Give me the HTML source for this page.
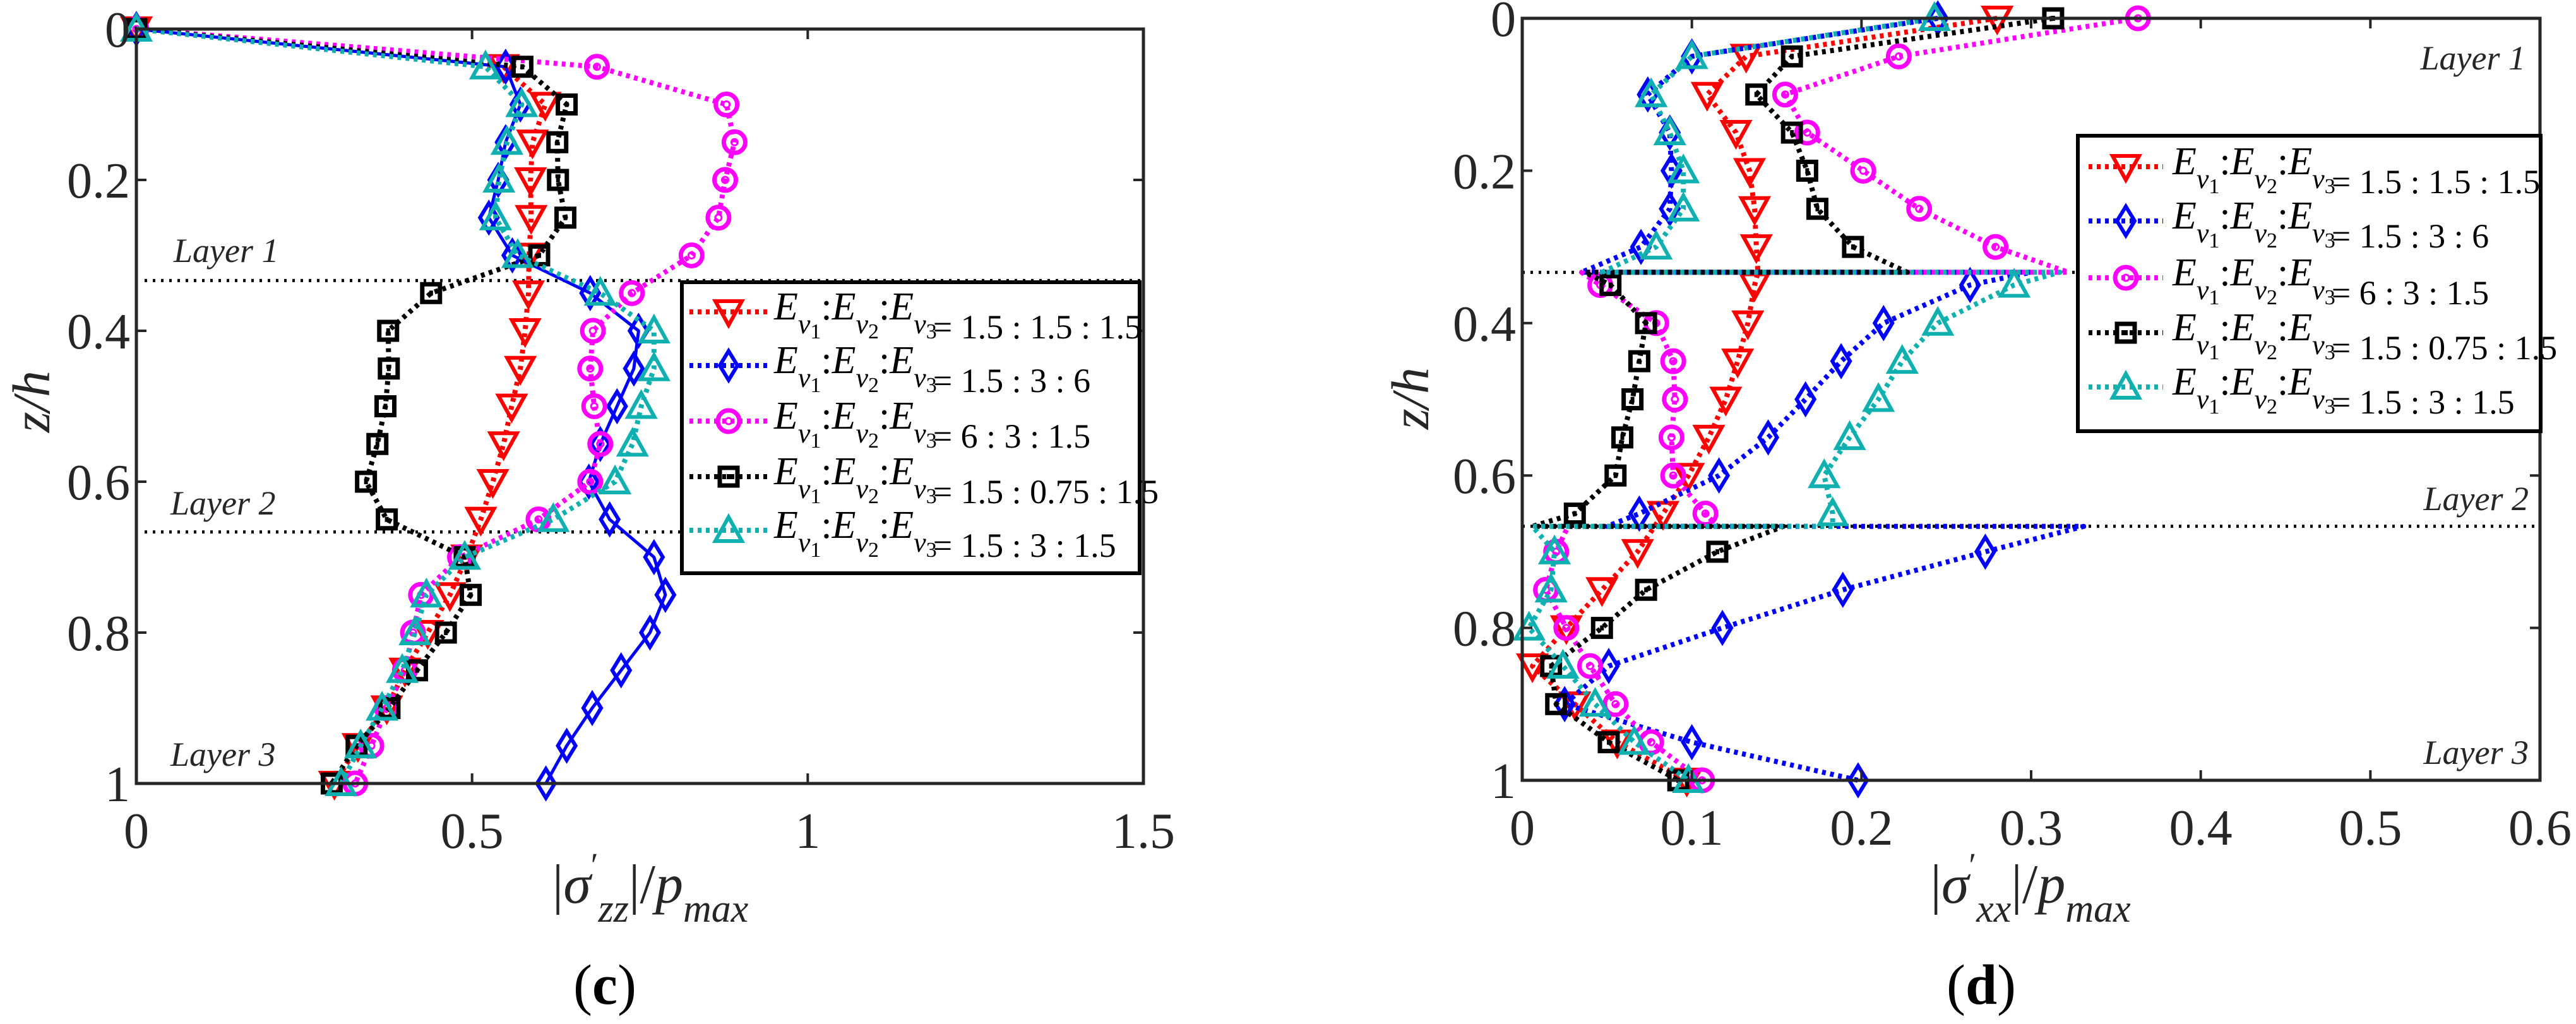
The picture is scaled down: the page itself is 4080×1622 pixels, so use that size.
<!DOCTYPE html>
<html><head><meta charset="utf-8"><style>
html,body{margin:0;padding:0;background:#fff;}
svg{display:block;}
text{font-family:"Liberation Serif","Times New Roman",Times,serif;}
</style></head><body>
<svg id="fig" width="4080" height="1622" viewBox="0 0 4080 1622" xmlns="http://www.w3.org/2000/svg">
<rect width="4080" height="1622" fill="#fff"/>
</svg>
<script>
// ---------- data: panel (c) ----------
const zC = [0,0.05,0.1,0.15,0.2,0.25,0.3,0.35,0.4,0.45,0.5,0.55,0.6,0.65,0.7,0.75,0.8,0.85,0.9,0.95,1];
const cRed     = [0,0.547,0.609,0.59,0.587,0.588,0.585,0.584,0.579,0.572,0.559,0.547,0.531,0.513,0.492,0.467,0.434,0.40,0.373,0.33,0.295];
const cBlue    = [0,0.55,0.572,0.55,0.539,0.525,0.56,0.676,0.748,0.741,0.716,0.691,0.674,0.705,0.771,0.788,0.765,0.722,0.679,0.641,0.61];
const cMagenta = [0,0.686,0.879,0.891,0.877,0.867,0.827,0.738,0.68,0.676,0.682,0.691,0.676,0.599,0.482,0.424,0.412,0.40,0.373,0.35,0.326];
const cBlack   = [0,0.575,0.641,0.627,0.628,0.639,0.6,0.439,0.375,0.376,0.371,0.359,0.342,0.373,0.489,0.498,0.461,0.418,0.377,0.328,0.291];
const cCyan    = [0,0.52,0.574,0.552,0.54,0.535,0.568,0.691,0.771,0.771,0.752,0.739,0.713,0.621,0.489,0.432,0.415,0.396,0.366,0.334,0.305];
const cXTicks = [0,0.5,1,1.5];
const cXTickLabels = ["0","0.5","1","1.5"];
// ---------- data: panel (d) ----------
const zD = [0,0.05,0.1,0.15,0.2,0.25,0.3,0.3333,0.3333,0.35,0.4,0.45,0.5,0.55,0.6,0.65,0.6667,0.6667,0.7,0.75,0.8,0.85,0.9,0.95,1];
const dMark = [1,1,1,1,1,1,1,0,0,1,1,1,1,1,1,1,0,0,1,1,1,1,1,1,1];
const dRed     = [0.28,0.132,0.109,0.126,0.134,0.137,0.138,0.139,0.139,0.137,0.133,0.127,0.12,0.11,0.098,0.083,0.078,0.078,0.068,0.047,0.026,0.006,0.031,0.056,0.097];
const dBlue    = [0.245,0.1,0.074,0.087,0.088,0.087,0.07,0.035,0.30,0.264,0.213,0.188,0.167,0.145,0.116,0.069,0.05,0.331,0.273,0.189,0.118,0.051,0.025,0.1,0.198];
const dMagenta = [0.363,0.222,0.155,0.168,0.201,0.234,0.279,0.322,0.035,0.046,0.079,0.089,0.09,0.088,0.089,0.108,0.115,0.027,0.02,0.014,0.026,0.04,0.055,0.076,0.106];
const dBlack   = [0.313,0.159,0.138,0.159,0.168,0.174,0.195,0.227,0.037,0.052,0.073,0.069,0.065,0.059,0.055,0.031,0.006,0.154,0.115,0.073,0.047,0.017,0.02,0.051,0.092];
const dCyan    = [0.243,0.1,0.076,0.087,0.095,0.095,0.079,0.047,0.317,0.29,0.245,0.224,0.21,0.193,0.178,0.183,0.183,0.006,0.019,0.017,0.004,0.024,0.043,0.066,0.098];
const dXTicks = [0,0.1,0.2,0.3,0.4,0.5,0.6];
const dXTickLabels = ["0","0.1","0.2","0.3","0.4","0.5","0.6"];
const zTicks = [0,0.2,0.4,0.6,0.8,1];
const zTickLabels = ["0","0.2","0.4","0.6","0.8","1"];
const legendRatios = ["= 1.5 : 1.5 : 1.5","= 1.5 : 3 : 6","=  6 : 3 : 1.5","= 1.5 : 0.75 : 1.5","= 1.5 : 3 : 1.5"];

const NS="http://www.w3.org/2000/svg";
const SERIF="Liberation Serif, Times New Roman, Times, serif";
const svg=document.getElementById('fig');
function mk(tag,attrs,parent){const e=document.createElementNS(NS,tag);for(const k in attrs)e.setAttribute(k,attrs[k]);if(tag==='text')e.setAttribute('font-family',SERIF);(parent||svg).appendChild(e);return e;}

const styles=[
 {color:"#ff0000",mk:"tdown"},
 {color:"#0000ff",mk:"diamond"},
 {color:"#ff00ff",mk:"circle"},
 {color:"#000000",mk:"square"},
 {color:"#10b0b0",mk:"tup"}
];
const seriesNames=["series-1.5-1.5-1.5","series-1.5-3-6","series-6-3-1.5","series-1.5-0.75-1.5","series-1.5-3-1.5"];

function marker(g,type,x,y,color){
  let e;
  const sw=6;
  if(type==="tdown") e=mk('polygon',{points:`${x-21},${y-17} ${x+21},${y-17} ${x},${y+21}`,fill:"none",stroke:color,"stroke-width":sw},g);
  else if(type==="tup") e=mk('polygon',{points:`${x-21},${y+17} ${x+21},${y+17} ${x},${y-21}`,fill:"none",stroke:color,"stroke-width":sw},g);
  else if(type==="diamond") e=mk('polygon',{points:`${x},${y-23} ${x+14},${y} ${x},${y+23} ${x-14},${y}`,fill:"none",stroke:color,"stroke-width":sw},g);
  else if(type==="circle"){ e=mk('circle',{cx:x,cy:y,r:17,fill:"none",stroke:color,"stroke-width":sw+1},g); mk('circle',{cx:x,cy:y,r:5,fill:"none",stroke:color,"stroke-width":3},g);}
  else { e=mk('rect',{x:x-14,y:y-14,width:28,height:28,fill:"none",stroke:color,"stroke-width":sw+1},g); mk('rect',{x:x-3,y:y-4,width:6,height:8,fill:color},g);}
  
  
}

function legendText(g,x,y,ratio){
  const t=mk('text',{x:x,y:y+20,"font-size":62,fill:"#000"},g);
  
  
  let html='';
  for(let i=1;i<=3;i++){
    html+=`<tspan font-style="italic">E</tspan><tspan font-style="italic" font-size="44" dy="22">v</tspan><tspan font-size="34" dy="8">${i}</tspan><tspan dy="-30">${i<3?':':''}</tspan>`;
  }
  html+=`<tspan font-size="54" dx="-6">${ratio}</tspan>`;
  t.innerHTML=html;
}

function panel(p){
  const g=mk('g',{});
  
  
  const X=v=>p.x0+(v-p.xmin)/(p.xmax-p.xmin)*(p.x1-p.x0);
  const Y=z=>p.y0+z*(p.y1-p.y0);
  p.layerLines.forEach(l=>{
    const e=mk('line',{x1:l.xs,x2:l.xe,y1:Y(l.z),y2:Y(l.z),stroke:"#000","stroke-width":5,"stroke-dasharray":"4 9"},g);
    
    
  });
  p.series.forEach((vals,si)=>{
    const st=styles[si];
    const sg=mk('g',{},g);
    
    
    const pts=vals.map((v,i)=>X(v).toFixed(1)+","+Y(p.z[i]).toFixed(1)).join(" ");
    const attrs={points:pts,fill:"none",stroke:st.color,"stroke-width":8,"stroke-linejoin":"round"};
    if(!(p.solidBlue&&si===1)) attrs["stroke-dasharray"]="6 7";
    else attrs["stroke-width"]=5;
    const pl=mk('polyline',attrs,sg);
    
    
    vals.forEach((v,i)=>{ if(!p.mark||p.mark[i]) marker(sg,st.mk,X(v),Y(p.z[i]),st.color); });
  });
  const box=mk('rect',{x:p.x0,y:p.y0,width:p.x1-p.x0,height:p.y1-p.y0,fill:"none",stroke:"#262626","stroke-width":5},g);
  
  
  p.xticks.forEach((v,i)=>{
    const x=X(v);
    mk('line',{x1:x,x2:x,y1:p.y1,y2:p.y1-16,stroke:"#262626","stroke-width":4},g);
    mk('line',{x1:x,x2:x,y1:p.y0,y2:p.y0+16,stroke:"#262626","stroke-width":4},g);
    const t=mk('text',{x:x,y:p.y1+102,"font-size":80,"text-anchor":"middle",fill:"#262626"},g);
    t.textContent=p.xlabels[i];
    
    
  });
  zTicks.forEach((z,i)=>{
    const y=Y(z);
    mk('line',{x1:p.x0,x2:p.x0+16,y1:y,y2:y,stroke:"#262626","stroke-width":4},g);
    mk('line',{x1:p.x1,x2:p.x1-16,y1:y,y2:y,stroke:"#262626","stroke-width":4},g);
    const t=mk('text',{x:p.x0-10,y:y+28,"font-size":80,"text-anchor":"end",fill:"#262626"},g);
    t.textContent=zTickLabels[i];
    
    
  });
  p.layerLabels.forEach(l=>{
    const t=mk('text',{x:l.x,y:l.y,"font-size":54,"font-style":"italic","text-anchor":l.anchor,fill:"#262626"},g);
    t.textContent=l.text;
    
    
  });
  const yt=mk('text',{x:0,y:0,"font-size":84,"font-style":"italic","text-anchor":"middle",fill:"#262626",transform:`translate(${p.ytx},${p.yty}) rotate(-90)`},g);
  yt.textContent="z/h";
  
  
  const xt=mk('text',{x:p.xtx,y:p.xty,"font-size":88,"text-anchor":"middle",fill:"#262626"},g);
  xt.innerHTML=`|<tspan font-style="italic">σ</tspan><tspan font-size="54" dy="-42">′</tspan><tspan font-size="62" font-style="italic" dy="72">${p.sub}</tspan><tspan dy="-30">|/</tspan><tspan font-style="italic">p</tspan><tspan font-size="62" font-style="italic" dy="30">max</tspan>`;
  
  
  const cap=mk('text',{x:p.capx,y:1590,"font-size":90,"text-anchor":"middle",fill:"#000"},g);
  cap.innerHTML=`(<tspan font-weight="bold">${p.cap}</tspan>)`;
  
  
  const lg=mk('g',{},g);
  
  
  mk('rect',{x:p.lg.x,y:p.lg.y,width:p.lg.w,height:p.lg.h,fill:"#fff",stroke:"#000","stroke-width":6},lg);
  p.lg.rows.forEach((ry,i)=>{
    const eg=mk('g',{},lg);
    
    
    const st=styles[i];
    mk('line',{x1:p.lg.l0,x2:p.lg.l1,y1:ry,y2:ry,stroke:st.color,"stroke-width":8,"stroke-dasharray":"6 7"},eg);
    marker(eg,st.mk,(p.lg.l0+p.lg.l1)/2,ry,st.color);
    legendText(eg,p.lg.tx,ry-8,legendRatios[i]);
  });
}

panel({name:"panel-c-sigma-zz",x0:216,x1:1811,y0:46,y1:1241,xmin:0,xmax:1.5,z:zC,
  series:[cRed,cBlue,cMagenta,cBlack,cCyan],solidBlue:true,
  xticks:cXTicks,xlabels:cXTickLabels,
  layerLines:[{z:1/3,xs:229,xe:1811},{z:2/3,xs:229,xe:1811}],
  layerLabels:[{text:"Layer 1",x:275,y:415,anchor:"start"},{text:"Layer 2",x:270,y:815,anchor:"start"},{text:"Layer 3",x:270,y:1213,anchor:"start"}],
  ytx:78,yty:636,xtx:1030,xty:1430,sub:"zz",capx:958,cap:"c",
  lg:{x:1080,y:447,w:725,h:461,rows:[494,579,667,755,840],l0:1092,l1:1216,tx:1226}});

panel({name:"panel-d-sigma-xx",x0:2411,x1:4023,y0:29,y1:1236,xmin:0,xmax:0.6,z:zD,mark:dMark,
  series:[dRed,dBlue,dMagenta,dBlack,dCyan],solidBlue:false,
  xticks:dXTicks,xlabels:dXTickLabels,
  layerLines:[{z:1/3,xs:2411,xe:4023},{z:2/3,xs:2411,xe:4023}],
  layerLabels:[{text:"Layer 1",x:4000,y:110,anchor:"end"},{text:"Layer 2",x:4005,y:808,anchor:"end"},{text:"Layer 3",x:4005,y:1210,anchor:"end"}],
  ytx:2262,yty:631,xtx:3216,xty:1430,sub:"xx",capx:3138,cap:"d",
  lg:{x:3291,y:215,w:733,h:468,rows:[264,350,440,527,613],l0:3308,l1:3426,tx:3441}});
</script>
</body></html>
